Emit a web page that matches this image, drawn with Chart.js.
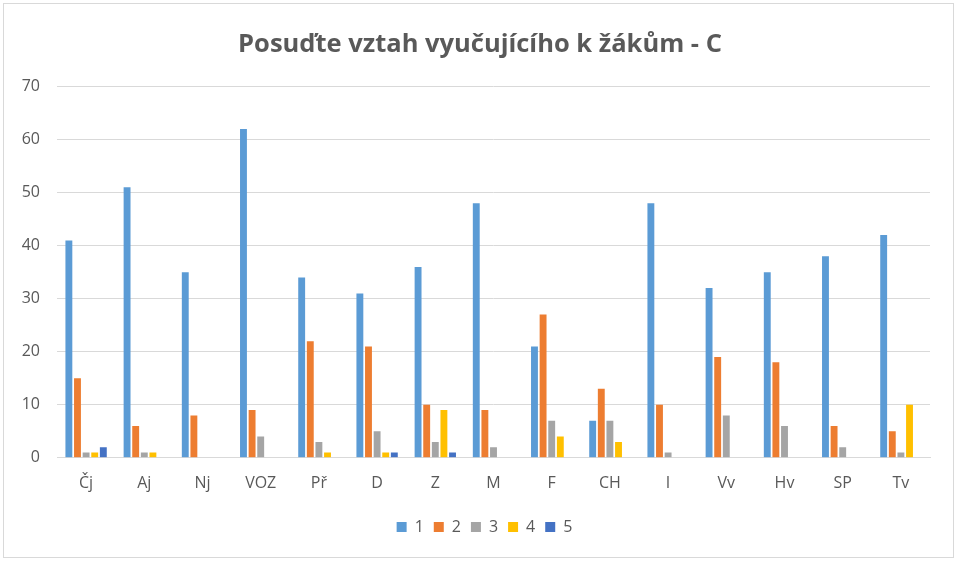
<!DOCTYPE html>
<html><head><meta charset="utf-8">
<script src="https://cdn.jsdelivr.net/npm/chart.js@4/dist/chart.umd.min.js"></script>
<style>
html,body{margin:0;padding:0;background:#fff;}
#wrap{position:absolute;left:3px;top:3px;width:951px;height:555px;border:1px solid #d9d9d9;box-sizing:border-box;}
canvas{display:block;}
</style></head><body>
<div id="wrap"><canvas id="c" width="949" height="553"></canvas></div>
<script>
const categories = ["Čj","Aj","Nj","VOZ","Př","D","Z","M","F","CH","I","Vv","Hv","SP","Tv"];
const s1 = [41,51,35,62,34,31,36,48,21,7,48,32,35,38,42];
const s2 = [15,6,8,9,22,21,10,9,27,13,10,19,18,6,5];
const s3 = [1,1,0,4,3,5,3,2,7,7,1,8,6,2,1];
const s4 = [1,1,0,0,1,1,9,0,4,3,0,0,0,0,10];
const s5 = [2,0,0,0,0,1,1,0,0,0,0,0,0,0,0];
const seriesNames = ["1","2","3","4","5"];
const colors = ["#5B9BD5","#ED7D31","#A5A5A5","#FFC000","#4472C4"];
const yTicks = [0,10,20,30,40,50,60,70];
const title = "Posuďte vztah vyučujícího k žákům - C";

const font = "'Open Sans', 'Liberation Sans', sans-serif";
const centerBlocks = {
  id: 'centerBlocks',
  afterLayout(chart) {
    const t = chart.titleBlock; if (t) { t.left = 3; t.right = chart.width; }
    const l = chart.legend; if (l) { l.left = 12; l.right = chart.width; }
  }
};
new Chart(document.getElementById('c'), {
  type: 'bar',
  data: {
    labels: categories,
    datasets: [s1,s2,s3,s4,s5].map((d,i)=>({
      label: seriesNames[i], data: d, backgroundColor: colors[i],
      categoryPercentage: 0.74, barPercentage: 0.8
    }))
  },
  plugins: [centerBlocks],
  options: {
    responsive: false, animation: false,
    layout: {padding: {left: 4, right: 23, top: 17, bottom: 12}},
    plugins: {
      title: {display: true, text: title, color: '#595959',
        font: {family: font, size: 25.5, weight: 'bold'}, padding: {top: 8, bottom: 27}},
      legend: {position: 'bottom', labels: {color: '#595959', font: {family: font, size: 16},
        boxWidth: 10, boxHeight: 10, padding: 10}},
      tooltip: {enabled: false}
    },
    scales: {
      x: {grid: {display: false}, border: {color: '#d9d9d9'},
        afterFit: ax => { ax.height += 8; },
        ticks: {color: '#595959', font: {family: font, size: 16}, padding: 8}},
      y: {min: 0, max: 70, afterBuildTicks: ax => { ax.ticks = yTicks.map(v=>({value:v})); },
        afterFit: ax => { ax.width = 49; },
        grid: {color: '#d9d9d9', drawTicks: false}, border: {display: false},
        ticks: {color: '#595959', font: {family: font, size: 16}, padding: 17}}
    }
  }
});
</script></body></html>
